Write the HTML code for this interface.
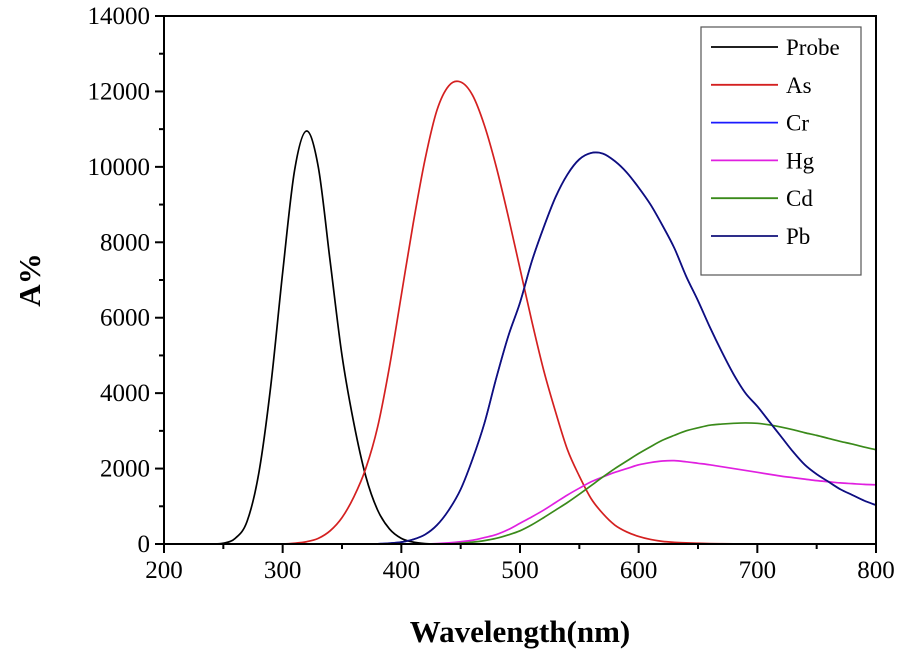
<!DOCTYPE html>
<html><head><meta charset="utf-8"><style>
html,body{margin:0;padding:0;background:#fff;}
svg text{font-family:"Liberation Serif",serif;}
</style></head><body>
<svg id="chart" width="901" height="653" xmlns="http://www.w3.org/2000/svg">
<g id="curves"></g>
<rect x="164" y="16" width="712" height="528" fill="none" stroke="#000" stroke-width="2"/>
<g id="ticks"></g>
<text x="520" y="642" text-anchor="middle" font-size="31" font-weight="bold">Wavelength(nm)</text>
<text transform="translate(40,280) rotate(-90)" text-anchor="middle" font-size="31" font-weight="bold">A%</text>
<g>
<rect x="701" y="27" width="160" height="248" fill="#fff" stroke="#555" stroke-width="1.2"/>
<g id="legend"></g>
</g>
</svg>
<script>
const wavelengths=[200,210,220,230,240,250,260,270,280,290,300,310,320,330,340,350,360,370,380,390,400,410,420,430,440,450,460,470,480,490,500,510,520,530,540,550,560,570,580,590,600,610,620,630,640,650,660,670,680,690,700,710,720,730,740,750,760,770,780,790,800];
const probe=[0,0,0,0,0,20,150,600,1900,4200,7200,9900,10950,10000,7500,5000,3200,1800,900,400,150,50,10,0,0,0,0,0,0,0,0,0,0,0,0,0,0,0,0,0,0,0,0,0,0,0,0,0,0,0,0,0,0,0,0,0,0,0,0,0,0];
const as=[0,0,0,0,0,0,0,0,0,0,0,20,60,150,350,700,1250,2000,3100,4700,6600,8500,10200,11500,12150,12250,11900,11100,10000,8700,7300,5900,4600,3500,2500,1800,1200,800,500,320,200,120,70,45,30,20,12,8,5,2,0,0,0,0,0,0,0,0,0,0,0];
const pb=[0,0,0,0,0,0,0,0,0,0,0,0,0,0,0,0,0,0,5,20,50,120,250,500,900,1450,2250,3200,4400,5500,6400,7500,8400,9200,9800,10200,10370,10350,10150,9850,9450,9000,8450,7850,7100,6450,5750,5100,4500,4000,3650,3250,2850,2450,2100,1850,1650,1450,1300,1150,1030];
const cr=pb.slice();
const hg=[0,0,0,0,0,0,0,0,0,0,0,0,0,0,0,0,0,0,0,0,0,0,0,10,30,60,100,170,250,380,550,720,900,1100,1300,1480,1650,1780,1900,2000,2100,2160,2200,2210,2180,2140,2100,2050,2000,1950,1900,1850,1800,1760,1720,1680,1650,1620,1600,1580,1570];
const cd=[0,0,0,0,0,0,0,0,0,0,0,0,0,0,0,0,0,0,0,0,0,0,0,0,0,20,50,90,150,240,350,510,700,900,1100,1320,1550,1780,2000,2200,2400,2580,2750,2880,3000,3080,3150,3180,3200,3210,3200,3160,3100,3030,2950,2880,2800,2720,2650,2570,2500];
const seriesNames=["Probe","As","Cr","Hg","Cd","Pb"];
const seriesColors=["#000000","#d42020","#1a1aff","#e020e0","#3a8a1a","#10107a"];
const seriesData=[probe,as,cr,hg,cd,pb];
const xTicks=[200,300,400,500,600,700,800];
const yTicks=[0,2000,4000,6000,8000,10000,12000,14000];
const NS="http://www.w3.org/2000/svg";
const X0=164,X1=876,Y0=544,Y1=16;
function xs(v){return X0+(v-200)/600*(X1-X0);}
function ys(v){return Y0-v/14000*(Y0-Y1);}
function pathFor(arr){
  const pts=wavelengths.map((w,i)=>[xs(w),ys(arr[i])]);
  let d="M"+pts[0][0]+","+pts[0][1];
  for(let i=0;i<pts.length-1;i++){
    const p0=pts[Math.max(0,i-1)],p1=pts[i],p2=pts[i+1],p3=pts[Math.min(pts.length-1,i+2)];
    const c1=[p1[0]+(p2[0]-p0[0])/6,p1[1]+(p2[1]-p0[1])/6];
    const c2=[p2[0]-(p3[0]-p1[0])/6,p2[1]-(p3[1]-p1[1])/6];
    d+=` C${c1[0]},${c1[1]} ${c2[0]},${c2[1]} ${p2[0]},${p2[1]}`;
  }
  return d;
}
const curves=document.getElementById("curves");
const order=[2,0,1,3,4,5];
order.forEach(i=>{
  const p=document.createElementNS(NS,"path");
  p.setAttribute("d",pathFor(seriesData[i]));
  p.setAttribute("fill","none");
  p.setAttribute("stroke",seriesColors[i]);
  p.setAttribute("stroke-width","1.7");
  
  
  curves.appendChild(p);
});
const ticks=document.getElementById("ticks");
function ln(x1,y1,x2,y2,name){
  const l=document.createElementNS(NS,"line");
  l.setAttribute("x1",x1);l.setAttribute("y1",y1);l.setAttribute("x2",x2);l.setAttribute("y2",y2);
  l.setAttribute("stroke","#000");l.setAttribute("stroke-width","2");
  
  
  ticks.appendChild(l);
}
function tx(x,y,s,anchor,size,name){
  const t=document.createElementNS(NS,"text");
  t.setAttribute("x",x);t.setAttribute("y",y);t.setAttribute("text-anchor",anchor);t.setAttribute("font-size",size);
  t.textContent=s;
  
  
  ticks.appendChild(t);
}
xTicks.forEach((v,i)=>{
  ln(xs(v),Y0,xs(v),Y0+9,"x-tick");
  if(i<xTicks.length-1) ln(xs(v+50),Y0,xs(v+50),Y0+5,"x-minor-tick");
  tx(xs(v),Y0+34,String(v),"middle",25,"x-tick-label");
});
yTicks.forEach((v,i)=>{
  ln(X0-9,ys(v),X0,ys(v),"y-tick");
  if(i<yTicks.length-1) ln(X0-5,ys(v+1000),X0,ys(v+1000),"y-minor-tick");
  tx(X0-14,ys(v)+8,String(v),"end",25,"y-tick-label");
});
const lg=document.getElementById("legend");
seriesNames.forEach((n,i)=>{
  const y=47+i*37.8;
  const l=document.createElementNS(NS,"line");
  l.setAttribute("x1",711);l.setAttribute("x2",778);l.setAttribute("y1",y);l.setAttribute("y2",y);
  l.setAttribute("stroke",seriesColors[i]);l.setAttribute("stroke-width","1.8");
  
  
  lg.appendChild(l);
  const t=document.createElementNS(NS,"text");
  t.setAttribute("x",786);t.setAttribute("y",y+8);t.setAttribute("font-size",23);
  t.textContent=n;
  
  
  lg.appendChild(t);
});
</script>
</body></html>
